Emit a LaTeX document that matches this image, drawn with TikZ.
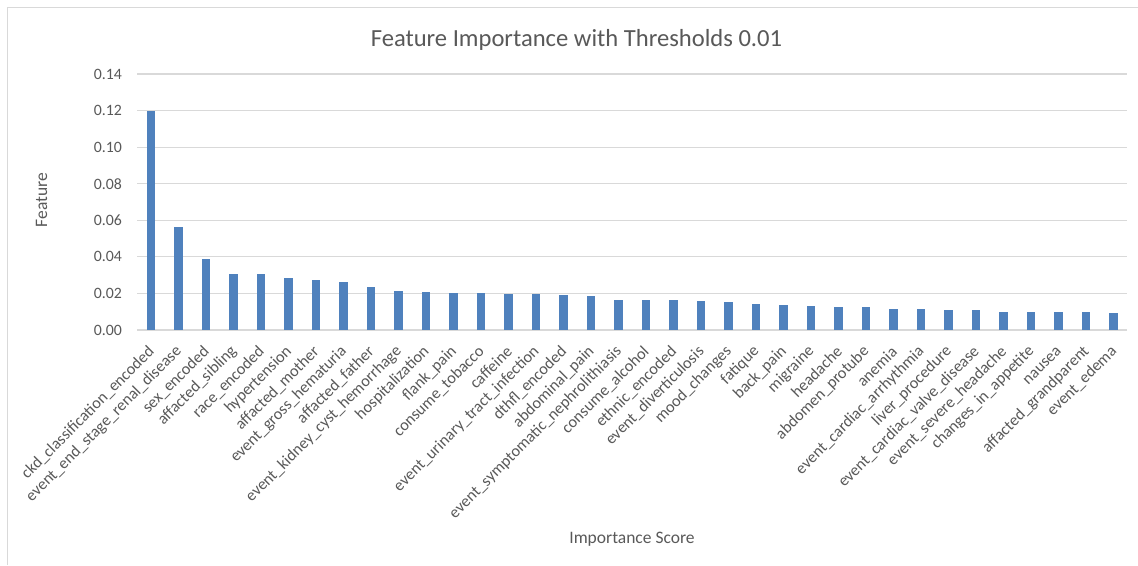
\documentclass[tikz,border=0pt]{standalone}
\usepackage{fontspec}
\setmainfont{Carlito}
\definecolor{barblue}{HTML}{4F81BD}
\definecolor{txtgray}{HTML}{595959}
\definecolor{gridgray}{HTML}{D9D9D9}
\begin{document}
\begin{tikzpicture}[x=1pt,y=-1pt,
  gridline/.style={draw=gridgray,line width=1.2pt},
  frameline/.style={draw=gridgray,line width=1pt},
  ticklab/.style={anchor=east,inner sep=0pt,text=txtgray,font=\fontsize{15.8}{18}\selectfont},
  catlab/.style={anchor=east,rotate=45,inner sep=0pt,text=txtgray,font=\fontsize{16.3}{18}\selectfont},
  axtitle/.style={anchor=base,inner sep=0pt,text=txtgray,font=\fontsize{17.5}{20}\selectfont},
  charttitle/.style={anchor=base,inner sep=0pt,text=txtgray,font=\fontsize{24.6}{28}\selectfont},
  barfill/.style={fill=barblue}]
\useasboundingbox (0,0) rectangle (1138,565);
\fill[white] (0,0) rectangle (1138,565);
\draw[frameline] (7,565) -- (7,7) -- (1138,7);
% gridlines and tick labels
\foreach \k/\t in {0/0.00,1/0.02,2/0.04,3/0.06,4/0.08,5/0.10,6/0.12,7/0.14}{
  \pgfmathsetmacro\yy{330-\k*256/7}
  \draw[gridline] (137,\yy) -- (1127,\yy);
  \node[ticklab] (tick\k) at (122,\yy) {\t};
}
% bars and category labels
\foreach \i/\top/\name in {
 1/111/ckd\_classification\_encoded,
 2/227/event\_end\_stage\_renal\_disease,
 3/259/sex\_encoded,
 4/273.7/affacted\_sibling,
 5/273.9/race\_encoded,
 6/278.3/hypertension,
 7/279.7/affacted\_mother,
 8/282.3/event\_gross\_hematuria,
 9/286.7/affacted\_father,
 10/290.8/event\_kidney\_cyst\_hemorrhage,
 11/292.3/hospitalization,
 12/292.7/flank\_pain,
 13/293.3/consume\_tobacco,
 14/294/caffeine,
 15/294.3/event\_urinary\_tract\_infection,
 16/295/dthfl\_encoded,
 17/296.3/abdominal\_pain,
 18/299.7/event\_symptomatic\_nephrolithiasis,
 19/299.8/consume\_alcohol,
 20/300/ethnic\_encoded,
 21/300.7/event\_diverticulosis,
 22/302/mood\_changes,
 23/303.7/fatique,
 24/305.3/back\_pain,
 25/306/migraine,
 26/306.7/headache,
 27/307/abdomen\_protube,
 28/308.7/anemia,
 29/309.3/event\_cardiac\_arrhythmia,
 30/310.3/liver\_procedure,
 31/310.4/event\_cardiac\_valve\_disease,
 32/311.7/event\_severe\_headache,
 33/311.8/changes\_in\_appetite,
 34/311.8/nausea,
 35/312.3/affacted\_grandparent,
 36/312.7/event\_edema}{
  \pgfmathsetmacro\xc{150.75+27.5*(\i-1)}
  \fill[barfill] (\xc-4.25,329.5) rectangle (\xc+4.25,\top);
  \node[catlab] (lab\i) at (\xc+1,349) {\name};
}
\node[charttitle] (title) at (576.5,46) {Feature Importance with Thresholds 0.01};
\node[axtitle,rotate=90] (ytitle) at (47,200) {Feature};
\node[axtitle] (xtitle) at (632,543) {Importance Score};
\end{tikzpicture}
\end{document}
